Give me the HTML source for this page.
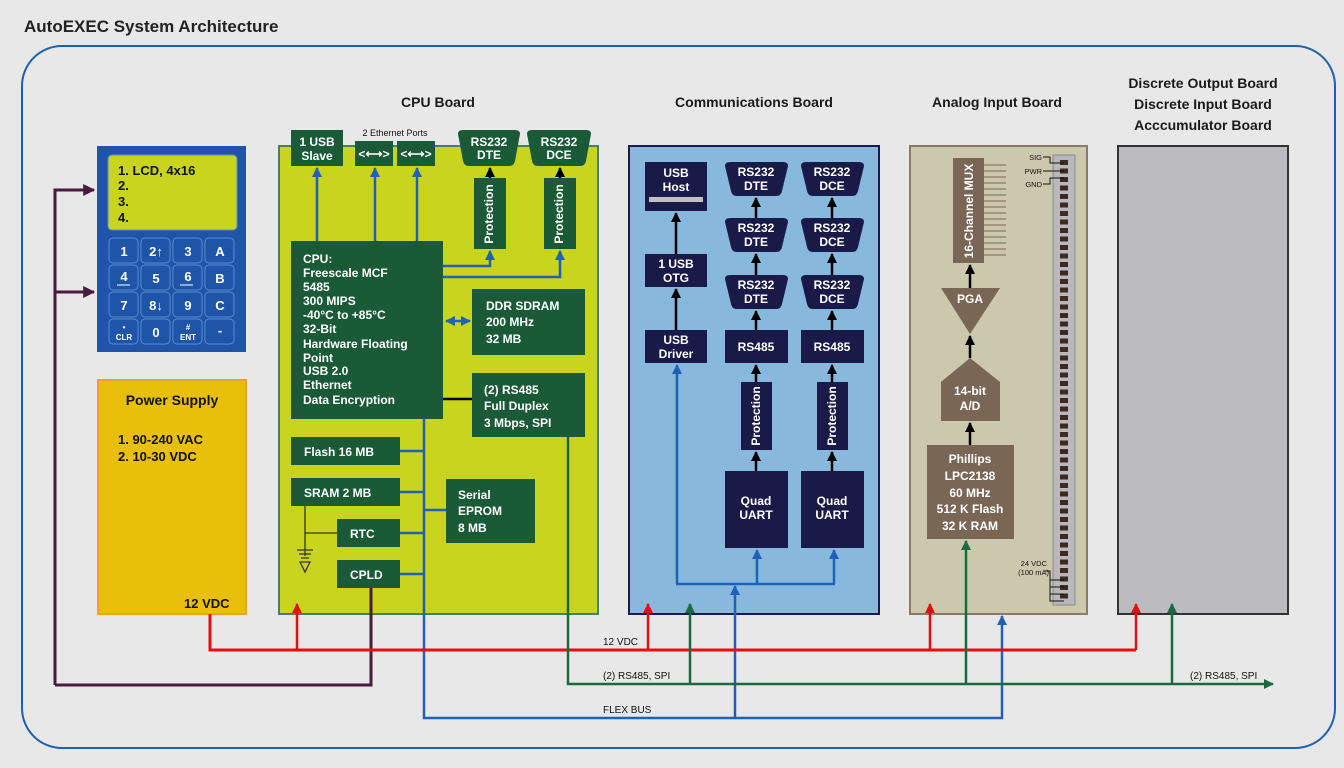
<!DOCTYPE html>
<html><head><meta charset="utf-8"><style>
html,body{margin:0;padding:0;background:#e8e8e8;}
svg{display:block;font-family:"Liberation Sans",sans-serif;font-weight:bold;}
</style></head><body>
<svg width="1344" height="768" viewBox="0 0 1344 768" xmlns="http://www.w3.org/2000/svg">
<defs>
<marker id="ab" viewBox="0 0 10 10" refX="9" refY="5" markerWidth="4" markerHeight="4" orient="auto"><path d="M0,0L10,5L0,10z" fill="#2060b8"/></marker>
<marker id="ak" viewBox="0 0 10 10" refX="9" refY="5" markerWidth="4" markerHeight="4" orient="auto"><path d="M0,0L10,5L0,10z" fill="#000"/></marker>
<marker id="ar" viewBox="0 0 10 10" refX="9" refY="5" markerWidth="4" markerHeight="4" orient="auto"><path d="M0,0L10,5L0,10z" fill="#e01010"/></marker>
<marker id="ag" viewBox="0 0 10 10" refX="9" refY="5" markerWidth="4" markerHeight="4" orient="auto"><path d="M0,0L10,5L0,10z" fill="#1a6a40"/></marker>
<marker id="ap" viewBox="0 0 10 10" refX="9" refY="5" markerWidth="4" markerHeight="4" orient="auto"><path d="M0,0L10,5L0,10z" fill="#4a1a40"/></marker>
<marker id="abs" viewBox="0 0 10 10" refX="1" refY="5" markerWidth="4" markerHeight="4" orient="auto"><path d="M10,0L0,5L10,10z" fill="#2060b8"/></marker>
</defs>
<rect width="1344" height="768" fill="#e8e8e8"/>
<text x="24" y="32" font-size="17" fill="#222">AutoEXEC System Architecture</text>
<rect x="22" y="46" width="1313" height="702" rx="40" fill="none" stroke="#2060b0" stroke-width="2"/>

<!-- titles -->
<g font-size="14" fill="#1a1a1a" text-anchor="middle">
<text x="438" y="107">CPU Board</text>
<text x="754" y="107">Communications Board</text>
<text x="997" y="107">Analog Input Board</text>
<text x="1203" y="88">Discrete Output Board</text>
<text x="1203" y="109">Discrete Input Board</text>
<text x="1203" y="130">Acccumulator Board</text>
</g>

<!-- keypad -->
<rect x="97" y="146" width="149" height="206" fill="#1f55a8"/>
<rect x="108" y="155" width="129" height="75" rx="4" fill="#c8d41e" stroke="#5a8ad0"/>
<g font-size="13" fill="#111"><text x="118" y="175">1.  LCD, 4x16</text><text x="118" y="190">2.</text><text x="118" y="206">3.</text><text x="118" y="222">4.</text></g>
<g fill="#1f55a8" stroke="#5a8ad0" stroke-width="1">
<rect x="109" y="238" width="29" height="25" rx="4"/><rect x="141" y="238" width="29" height="25" rx="4"/><rect x="173" y="238" width="29" height="25" rx="4"/><rect x="205" y="238" width="29" height="25" rx="4"/>
<rect x="109" y="265" width="29" height="25" rx="4"/><rect x="141" y="265" width="29" height="25" rx="4"/><rect x="173" y="265" width="29" height="25" rx="4"/><rect x="205" y="265" width="29" height="25" rx="4"/>
<rect x="109" y="292" width="29" height="25" rx="4"/><rect x="141" y="292" width="29" height="25" rx="4"/><rect x="173" y="292" width="29" height="25" rx="4"/><rect x="205" y="292" width="29" height="25" rx="4"/>
<rect x="109" y="319" width="29" height="25" rx="4"/><rect x="141" y="319" width="29" height="25" rx="4"/><rect x="173" y="319" width="29" height="25" rx="4"/><rect x="205" y="319" width="29" height="25" rx="4"/>
</g>
<g font-size="13" fill="#fff" text-anchor="middle">
<text x="124" y="256">1</text><text x="156" y="256">2↑</text><text x="188" y="256">3</text><text x="220" y="256">A</text>
<text x="124" y="281">4</text><text x="156" y="283">5</text><text x="188" y="281">6</text><text x="220" y="283">B</text>
<text x="124" y="310">7</text><text x="156" y="310">8↓</text><text x="188" y="310">9</text><text x="220" y="310">C</text>
<text x="156" y="337">0</text><text x="220" y="335">-</text>
<text x="124" y="340" font-size="8">CLR</text><text x="188" y="340" font-size="8">ENT</text>
<text x="124" y="330" font-size="8">•</text><text x="188" y="330" font-size="8">#</text>
</g>
<path d="M117,285h13M180,285h13" stroke="#fff" stroke-width="1"/>

<!-- PSU -->
<rect x="98" y="380" width="148" height="234" fill="#e8bf0a" stroke="#f0a030" stroke-width="2"/>
<text x="172" y="405" font-size="14" fill="#111" text-anchor="middle">Power Supply</text>
<text x="118" y="444" font-size="13" fill="#111">1.  90-240 VAC</text>
<text x="118" y="461" font-size="13" fill="#111">2.  10-30 VDC</text>
<text x="184" y="608" font-size="13" fill="#111">12 VDC</text>

<!-- CPU board -->
<rect x="279" y="146" width="319" height="468" fill="#c8d41e" stroke="#4a7a70" stroke-width="2"/>
<g fill="#1a5a36">
<rect x="291" y="130" width="52" height="36"/>
<rect x="355" y="141" width="38" height="25"/><rect x="397" y="141" width="38" height="25"/>
<path d="M458,134q0,-4 5,-4h52q5,0 5,4l-5,27q-1,5 -6,5h-40q-5,0 -6,-5z"/>
<path d="M527,134q0,-4 5,-4h54q5,0 5,4l-5,27q-1,5 -6,5h-42q-5,0 -6,-5z"/>
<rect x="474" y="178" width="32" height="71"/><rect x="544" y="178" width="32" height="71"/>
<rect x="291" y="241" width="152" height="178"/>
<rect x="472" y="289" width="113" height="66"/>
<rect x="472" y="373" width="113" height="64"/>
<rect x="291" y="437" width="109" height="28"/>
<rect x="291" y="478" width="109" height="28"/>
<rect x="337" y="519" width="63" height="28"/>
<rect x="337" y="560" width="63" height="28"/>
<rect x="446" y="479" width="89" height="64"/>
</g>
<text x="395" y="136" font-size="9" font-weight="normal" fill="#111" text-anchor="middle">2 Ethernet Ports</text>
<g fill="#fff" font-size="12" text-anchor="middle">
<text x="317" y="146">1 USB</text><text x="317" y="160">Slave</text>
<text x="374" y="158">&lt;⟷&gt;</text><text x="416" y="158">&lt;⟷&gt;</text>
<text x="489" y="146">RS232</text><text x="489" y="159">DTE</text>
<text x="559" y="146">RS232</text><text x="559" y="159">DCE</text>
<text x="493" y="214" transform="rotate(-90 493 214)">Protection</text>
<text x="563" y="214" transform="rotate(-90 563 214)">Protection</text>
</g>
<g fill="#fff" font-size="12">
<text x="303" y="263">CPU:</text><text x="303" y="277">Freescale MCF</text><text x="303" y="291">5485</text>
<text x="303" y="305">300 MIPS</text><text x="303" y="319">-40°C to +85°C</text><text x="303" y="333">32-Bit</text>
<text x="303" y="348">Hardware Floating</text><text x="303" y="362">Point</text><text x="303" y="375">USB 2.0</text>
<text x="303" y="389">Ethernet</text><text x="303" y="404">Data Encryption</text>
<text x="486" y="310">DDR SDRAM</text><text x="486" y="326">200 MHz</text><text x="486" y="343">32 MB</text>
<text x="484" y="394">(2) RS485</text><text x="484" y="410">Full Duplex</text><text x="484" y="427">3 Mbps, SPI</text>
<text x="304" y="456">Flash 16 MB</text><text x="304" y="497">SRAM 2 MB</text>
<text x="350" y="538">RTC</text><text x="350" y="579">CPLD</text>
<text x="458" y="499">Serial</text><text x="458" y="515">EPROM</text><text x="458" y="532">8 MB</text>
</g>
<g stroke="#2060b8" stroke-width="2.5" fill="none">
<path d="M317,241V168" marker-end="url(#ab)"/><path d="M375,241V168" marker-end="url(#ab)"/><path d="M417,241V168" marker-end="url(#ab)"/>
<path d="M443,266H490V251" marker-end="url(#ab)"/><path d="M443,277H560V251" marker-end="url(#ab)"/>
<path d="M446,321H470" marker-end="url(#ab)" marker-start="url(#abs)"/>
<path d="M424,419V718H1002V616" marker-end="url(#ab)"/>
<path d="M400,451H424M400,492H424M424,510H446M400,533H424M400,574H424"/>
</g>
<g stroke="#000" stroke-width="2.5" fill="none">
<path d="M490,178V168" marker-end="url(#ak)"/><path d="M560,178V168" marker-end="url(#ak)"/>
<path d="M443,399H472"/>
</g>
<g stroke="#333" stroke-width="1.3" fill="none"><path d="M305,506V556M305,533H337M297,550H313M299,554H311M301,558H309"/><path d="M300,562L305,572L310,562z"/></g>

<!-- Comm board -->
<rect x="629" y="146" width="250" height="468" fill="#88b8dc" stroke="#1a1a50" stroke-width="2"/>
<g fill="#1a1a48">
<rect x="645" y="162" width="62" height="49"/><rect x="645" y="254" width="62" height="33"/><rect x="645" y="330" width="62" height="33"/>
<path id="t1" d="M725,166q0,-4 5,-4h53q5,0 5,4l-6,25q-1,5 -6,5h-39q-5,0 -6,-5z"/>
<use href="#t1" y="56"/><use href="#t1" y="113"/>
<use href="#t1" x="76"/><use href="#t1" x="76" y="56"/><use href="#t1" x="76" y="113"/>
<rect x="725" y="330" width="63" height="33"/><rect x="801" y="330" width="63" height="33"/>
<rect x="741" y="382" width="31" height="68"/><rect x="817" y="382" width="31" height="68"/>
<rect x="725" y="471" width="63" height="77"/><rect x="801" y="471" width="63" height="77"/>
</g>
<rect x="649" y="197" width="54" height="5" fill="#c0c0c8"/>
<g fill="#fff" font-size="12" text-anchor="middle">
<text x="676" y="177">USB</text><text x="676" y="191">Host</text>
<text x="676" y="268">1 USB</text><text x="676" y="282">OTG</text>
<text x="676" y="344">USB</text><text x="676" y="358">Driver</text>
<text x="756" y="176">RS232</text><text x="756" y="190">DTE</text>
<text x="756" y="232">RS232</text><text x="756" y="246">DTE</text>
<text x="756" y="289">RS232</text><text x="756" y="303">DTE</text>
<text x="832" y="176">RS232</text><text x="832" y="190">DCE</text>
<text x="832" y="232">RS232</text><text x="832" y="246">DCE</text>
<text x="832" y="289">RS232</text><text x="832" y="303">DCE</text>
<text x="756" y="351">RS485</text><text x="832" y="351">RS485</text>
<text x="760" y="416" transform="rotate(-90 760 416)">Protection</text>
<text x="836" y="416" transform="rotate(-90 836 416)">Protection</text>
<text x="756" y="505">Quad</text><text x="756" y="519">UART</text>
<text x="832" y="505">Quad</text><text x="832" y="519">UART</text>
</g>
<g stroke="#000" stroke-width="2.5" fill="none">
<path d="M676,254V213" marker-end="url(#ak)"/><path d="M676,330V289" marker-end="url(#ak)"/>
<path d="M756,218V198" marker-end="url(#ak)"/><path d="M756,275V254" marker-end="url(#ak)"/><path d="M756,330V311" marker-end="url(#ak)"/>
<path d="M756,382V365" marker-end="url(#ak)"/><path d="M756,471V452" marker-end="url(#ak)"/>
<path d="M832,218V198" marker-end="url(#ak)"/><path d="M832,275V254" marker-end="url(#ak)"/><path d="M832,330V311" marker-end="url(#ak)"/>
<path d="M832,382V365" marker-end="url(#ak)"/><path d="M832,471V452" marker-end="url(#ak)"/>
</g>
<g stroke="#2060b8" stroke-width="2.5" fill="none">
<path d="M677,584V365" marker-end="url(#ab)"/><path d="M676,584H835"/>
<path d="M757,584V550" marker-end="url(#ab)"/><path d="M834,584V550" marker-end="url(#ab)"/>
<path d="M735,718V586" marker-end="url(#ab)"/>
</g>

<!-- Analog board -->
<rect x="910" y="146" width="177" height="468" fill="#ccc8ae" stroke="#8a7a66" stroke-width="2"/>
<g fill="#7a6655">
<rect x="953" y="158" width="31" height="105"/>
<path d="M941,288H1000L970,334z"/>
<path d="M970,358L1000,382V421H941V382z"/>
<rect x="927" y="445" width="87" height="94"/>
</g>
<g stroke="#7a6655" stroke-width="1"><path d="M984,165H1006M984,171H1006M984,177H1006M984,183H1006M984,189H1006M984,195H1006M984,201H1006M984,207H1006M984,213H1006M984,219H1006M984,225H1006M984,231H1006M984,237H1006M984,243H1006M984,249H1006M984,255H1006"/></g>
<g fill="#fff" font-size="12" text-anchor="middle">
<text x="973" y="211" transform="rotate(-90 973 211)">16-Channel MUX</text>
<text x="970" y="303">PGA</text>
<text x="970" y="395">14-bit</text><text x="970" y="410">A/D</text>
<text x="970" y="463">Phillips</text><text x="970" y="480">LPC2138</text><text x="970" y="497">60 MHz</text>
<text x="970" y="513">512 K Flash</text><text x="970" y="530">32 K RAM</text>
</g>
<g stroke="#000" stroke-width="2.5" fill="none">
<path d="M970,288V265" marker-end="url(#ak)"/><path d="M970,358V336" marker-end="url(#ak)"/><path d="M970,445V423" marker-end="url(#ak)"/>
</g>
<rect x="1053" y="155" width="22" height="450" fill="#b8b8bc" stroke="#8a8a8a"/>
<line x1="1064" y1="160" x2="1064" y2="600" stroke="#3a2a20" stroke-width="8" stroke-dasharray="5,3.5"/>
<g stroke="#111" stroke-width="1" fill="none">
<path d="M1043,157H1050V163H1064M1043,171H1064M1043,184H1050V178H1064"/>
<path d="M1045,571H1050V601H1064M1050,580H1064M1050,587H1064M1050,594H1064"/>
</g>
<g font-size="7.5" font-weight="normal" fill="#111" text-anchor="end">
<text x="1042" y="160">SIG</text><text x="1042" y="174">PWR</text><text x="1042" y="187">GND</text>
<text x="1047" y="566">24 VDC</text><text x="1049" y="575">(100 mA)</text>
</g>

<!-- Discrete -->
<rect x="1118" y="146" width="170" height="468" fill="#bcbcc0" stroke="#333" stroke-width="2"/>

<!-- bottom buses -->
<g fill="none" stroke-width="3">
<path d="M55,685V190H94" stroke="#4a1a40" marker-end="url(#ap)"/>
<path d="M55,292H94" stroke="#4a1a40" marker-end="url(#ap)"/>
<path d="M371,588V685H55" stroke="#4a1a40"/>
<path d="M210,614V650H1136" stroke="#e01010"/>
<path d="M297,650V604" stroke="#e01010" stroke-width="2.5" marker-end="url(#ar)"/>
<path d="M648,650V604" stroke="#e01010" stroke-width="2.5" marker-end="url(#ar)"/>
<path d="M930,650V604" stroke="#e01010" stroke-width="2.5" marker-end="url(#ar)"/>
<path d="M1136,650V604" stroke="#e01010" stroke-width="2.5" marker-end="url(#ar)"/>
<path d="M568,437V684H1273" stroke="#1a6a40" stroke-width="2.5" marker-end="url(#ag)"/>
<path d="M690,684V604" stroke="#1a6a40" stroke-width="2.5" marker-end="url(#ag)"/>
<path d="M966,684V541" stroke="#1a6a40" stroke-width="2.5" marker-end="url(#ag)"/>
<path d="M1172,684V604" stroke="#1a6a40" stroke-width="2.5" marker-end="url(#ag)"/>
</g>
<g font-size="10" font-weight="normal" fill="#111">
<text x="603" y="645">12 VDC</text>
<text x="603" y="679">(2) RS485, SPI</text>
<text x="1190" y="679">(2) RS485, SPI</text>
<text x="603" y="713">FLEX BUS</text>
</g>
</svg>
</body></html>
